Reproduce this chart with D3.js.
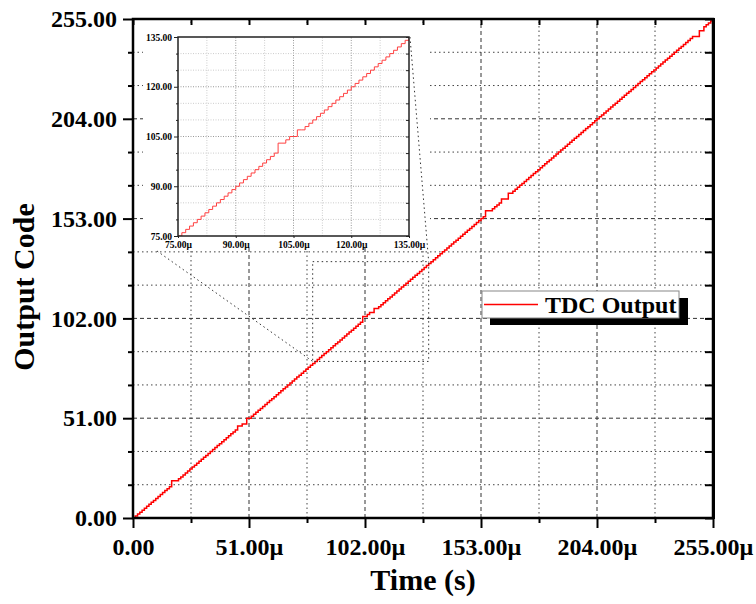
<!DOCTYPE html>
<html>
<head>
<meta charset="utf-8">
<script src="https://d3js.org/d3.v7.min.js"></script>
<style>
	body { margin: 0; background: #fff; }
	svg text { font-family: "Liberation Serif", "Times New Roman", serif; font-weight: bold; fill: #000; }
	.main-axis line { stroke: #000; stroke-width: 2; }
	.main-axis text { font-size: 24px; }
	.inset-axis line { stroke: #222; stroke-width: 1; }
	.inset-axis text { font-size: 9.5px; }
	.domain { display: none; }
</style>
</head>
<body>

<svg width="756" height="604" id="chart"></svg>

<script>

	// TDC output code, one sample per microsecond (index = time in µs)
	var codes = [
		0, 1, 2, 3, 4, 5, 6, 7, 8, 9, 10, 11, 12, 13, 14, 15,
		16, 19, 19, 19, 20, 21, 22, 23, 24, 25, 26, 27, 28, 29, 30, 31,
		32, 33, 34, 35, 36, 37, 38, 39, 40, 41, 42, 43, 44, 45, 47, 47,
		48, 48, 51, 51, 52, 53, 54, 55, 56, 57, 58, 59, 60, 61, 62, 63,
		64, 65, 66, 67, 68, 69, 70, 71, 72, 73, 74, 75, 76, 77, 78, 79,
		80, 81, 82, 83, 84, 85, 86, 87, 88, 89, 90, 91, 92, 93, 94, 95,
		96, 97, 98, 99, 100, 103, 103, 104, 105, 105, 107, 107, 108, 109, 110, 111,
		112, 113, 114, 115, 116, 117, 118, 119, 120, 121, 122, 123, 124, 125, 126, 127,
		128, 129, 130, 131, 132, 133, 134, 135, 136, 137, 138, 139, 140, 141, 142, 143,
		144, 145, 146, 147, 148, 149, 150, 151, 152, 153, 154, 157, 157, 157, 158, 159,
		160, 161, 163, 163, 163, 166, 166, 167, 168, 169, 170, 171, 172, 173, 174, 175,
		176, 177, 178, 179, 180, 181, 182, 183, 184, 185, 186, 187, 188, 189, 190, 191,
		192, 193, 194, 195, 196, 197, 198, 199, 200, 201, 202, 203, 204, 205, 206, 207,
		208, 209, 210, 211, 212, 213, 214, 215, 216, 217, 218, 219, 220, 221, 222, 223,
		224, 225, 226, 227, 228, 229, 230, 231, 232, 233, 234, 235, 236, 237, 238, 239,
		240, 241, 242, 243, 244, 245, 246, 246, 246, 249, 249, 251, 252, 253, 254, 255
	];

	var xTicks = [0, 51, 102, 153, 204, 255];
	var xMinor = [25.5, 76.5, 127.5, 178.5, 229.5];
	var yTicks = [0, 51, 102, 153, 204, 255];
	var yMinor = [17, 34, 68, 85, 119, 136, 170, 187, 221, 238];

	var insetTicks = [75, 90, 105, 120, 135];
	var insetXMinor = [82.5, 97.5, 112.5, 127.5];
	var insetYMinor = [80, 85, 95, 100, 110, 115, 125, 130];

	var zoomX = [79, 130];
	var zoomY = [80, 131];

	var legendLabel = "TDC Output";

	var points = codes.map((c, i) => ({t: i, code: c}));

	var svg = d3.select("#chart");

	var x = d3.scaleLinear().domain([0, 255]).range([133, 713]);
	var y = d3.scaleLinear().domain([0, 255]).range([518, 19]);

	var fmt = d3.format(".2f");
	var fmtT = d => d === 0 ? "0.00" : fmt(d) + "µ";

	// main grid
	var grid = svg.append("g");
	grid.selectAll(".vmaj").data(xTicks.slice(1, -1)).enter().append("line")
		.attr("x1", x).attr("x2", x).attr("y1", y(0)).attr("y2", y(255))
		.attr("stroke", "#333").attr("stroke-dasharray", "4,3");
	grid.selectAll(".vmin").data(xMinor).enter().append("line")
		.attr("x1", x).attr("x2", x).attr("y1", y(0)).attr("y2", y(255))
		.attr("stroke", "#444").attr("stroke-dasharray", "1.5,3");
	grid.selectAll(".hmaj").data(yTicks.slice(1, -1)).enter().append("line")
		.attr("y1", y).attr("y2", y).attr("x1", x(0)).attr("x2", x(255))
		.attr("stroke", "#333").attr("stroke-dasharray", "4,3");
	grid.selectAll(".hmin").data(yMinor).enter().append("line")
		.attr("y1", y).attr("y2", y).attr("x1", x(0)).attr("x2", x(255))
		.attr("stroke", "#444").attr("stroke-dasharray", "1.5,3");

	var line = d3.line()
		.x(d => x(d.t))
		.y(d => y(d.code))
		.curve(d3.curveStepAfter);

	svg.append("path")
		.datum(points)
		.attr("d", line)
		.attr("fill", "none")
		.attr("stroke", "#ff0000")
		.attr("stroke-width", 1.5);

	// zoom box
	svg.append("rect")
		.attr("x", x(zoomX[0]))
		.attr("y", y(zoomY[1]))
		.attr("width", x(zoomX[1]) - x(zoomX[0]))
		.attr("height", y(zoomY[0]) - y(zoomY[1]))
		.attr("fill", "none")
		.attr("stroke", "#333")
		.attr("stroke-dasharray", "1.5,3");

	// inset
	var ix = d3.scaleLinear().domain([75, 135]).range([178, 409]);
	var iy = d3.scaleLinear().domain([75, 135]).range([236, 37]);

	svg.append("rect")
		.attr("x", 143).attr("y", 24)
		.attr("width", 287).attr("height", 224)
		.attr("fill", "#fff");

	// connectors
	svg.append("line")
		.attr("x1", ix(75) - 21).attr("y1", iy(75) + 15)
		.attr("x2", x(zoomX[0])).attr("y2", y(zoomY[0]))
		.attr("stroke", "#333").attr("stroke-dasharray", "1.5,3");
	svg.append("line")
		.attr("x1", ix(135) + 1).attr("y1", iy(135))
		.attr("x2", x(zoomX[1])).attr("y2", y(zoomY[1]))
		.attr("stroke", "#333").attr("stroke-dasharray", "1.5,3");

	var igrid = svg.append("g");
	igrid.selectAll(".v").data(insetTicks.slice(1, -1)).enter().append("line")
		.attr("x1", ix).attr("x2", ix).attr("y1", iy(75)).attr("y2", iy(135))
		.attr("stroke", "#999").attr("stroke-dasharray", "1,1.5");
	igrid.selectAll(".vm").data(insetXMinor).enter().append("line")
		.attr("x1", ix).attr("x2", ix).attr("y1", iy(75)).attr("y2", iy(135))
		.attr("stroke", "#ccc").attr("stroke-dasharray", "1,1.5");
	igrid.selectAll(".h").data(insetTicks.slice(1, -1)).enter().append("line")
		.attr("y1", iy).attr("y2", iy).attr("x1", ix(75)).attr("x2", ix(135))
		.attr("stroke", "#999").attr("stroke-dasharray", "1,1.5");
	igrid.selectAll(".hm").data(insetYMinor).enter().append("line")
		.attr("y1", iy).attr("y2", iy).attr("x1", ix(75)).attr("x2", ix(135))
		.attr("stroke", "#ccc").attr("stroke-dasharray", "1,1.5");

	svg.append("clipPath").attr("id", "inset-clip")
		.append("rect")
		.attr("x", ix(75)).attr("y", iy(135))
		.attr("width", ix(135) - ix(75)).attr("height", iy(75) - iy(135));

	var iline = d3.line()
		.x(d => ix(d.t))
		.y(d => iy(d.code))
		.curve(d3.curveStepAfter);

	svg.append("path")
		.datum(points.filter(d => d.t >= 74 && d.t <= 136))
		.attr("d", iline)
		.attr("clip-path", "url(#inset-clip)")
		.attr("fill", "none")
		.attr("stroke", "#ff4040")
		.attr("stroke-width", 1);

	svg.append("rect")
		.attr("x", ix(75)).attr("y", iy(135))
		.attr("width", ix(135) - ix(75)).attr("height", iy(75) - iy(135))
		.attr("fill", "none")
		.attr("stroke", "#222")
		.attr("stroke-width", 1.5);

	svg.append("g").attr("class", "inset-axis")
		.attr("transform", "translate(" + ix(75) + ",0)")
		.call(d3.axisLeft(iy).tickValues(insetTicks).tickSize(4).tickPadding(2).tickFormat(fmt));
	svg.append("g").attr("class", "inset-axis")
		.attr("transform", "translate(" + ix(75) + ",0)")
		.call(d3.axisLeft(iy).tickValues(insetYMinor).tickSize(2).tickFormat(""));
	svg.append("g").attr("class", "inset-axis")
		.attr("transform", "translate(0," + iy(75) + ")")
		.call(d3.axisBottom(ix).tickValues(insetTicks).tickSize(2).tickPadding(3).tickFormat(fmtT));
	svg.append("g").attr("class", "inset-axis")
		.attr("transform", "translate(" + ix(135) + ",0)")
		.call(d3.axisLeft(iy).tickValues(insetTicks.concat(insetYMinor)).tickSize(3).tickFormat(""));

	// main axes
	svg.append("g").attr("class", "main-axis")
		.attr("transform", "translate(" + x(0) + ",0)")
		.call(d3.axisLeft(y).tickValues(yTicks).tickSize(10).tickPadding(6).tickFormat(fmt));
	svg.append("g").attr("class", "main-axis")
		.attr("transform", "translate(" + x(0) + ",0)")
		.call(d3.axisLeft(y).tickValues(yMinor).tickSize(5).tickFormat(""));
	svg.append("g").attr("class", "main-axis")
		.attr("transform", "translate(0," + y(0) + ")")
		.call(d3.axisBottom(x).tickValues(xTicks).tickSize(10).tickPadding(10).tickFormat(fmtT));
	svg.append("g").attr("class", "main-axis")
		.attr("transform", "translate(0," + y(0) + ")")
		.call(d3.axisBottom(x).tickValues(xMinor).tickSize(5).tickFormat(""));
	svg.append("g").attr("class", "main-axis")
		.attr("transform", "translate(" + x(255) + ",0)")
		.call(d3.axisLeft(y).tickValues(yTicks.concat(yMinor)).tickSize(8).tickFormat(""));
	svg.append("g").attr("class", "main-axis")
		.attr("transform", "translate(0," + y(255) + ")")
		.call(d3.axisBottom(x).tickValues(xTicks.concat(xMinor)).tickSize(6).tickFormat(""));

	svg.append("rect")
		.attr("x", x(0)).attr("y", y(255))
		.attr("width", x(255) - x(0)).attr("height", y(0) - y(255))
		.attr("fill", "none")
		.attr("stroke", "#000")
		.attr("stroke-width", 2.5);
	svg.append("line")
		.attr("x1", x(255) + 0.5).attr("x2", x(255) + 0.5)
		.attr("y1", y(255) - 1).attr("y2", y(0) + 1)
		.attr("stroke", "#000").attr("stroke-width", 3);

	// legend
	var legend = svg.append("g").attr("transform", "translate(482,291)");
	legend.append("rect")
		.attr("x", 8).attr("y", 7).attr("width", 198).attr("height", 27)
		.attr("fill", "#000");
	legend.append("rect")
		.attr("width", 197).attr("height", 27)
		.attr("fill", "#fff").attr("stroke", "#888").attr("stroke-width", 1);
	legend.append("line")
		.attr("x1", 2).attr("x2", 56).attr("y1", 13.5).attr("y2", 13.5)
		.attr("stroke", "#ff0000").attr("stroke-width", 1.5);
	legend.append("text")
		.attr("x", 63).attr("y", 22)
		.style("font-size", "24px")
		.text(legendLabel);

	// axis titles
	svg.append("text")
		.attr("x", 423).attr("y", 590)
		.attr("text-anchor", "middle")
		.style("font-size", "30px")
		.text("Time (s)");
	svg.append("text")
		.attr("transform", "translate(34,287) rotate(-90)")
		.attr("text-anchor", "middle")
		.style("font-size", "30px")
		.text("Output Code");

</script>
</body>
</html>
